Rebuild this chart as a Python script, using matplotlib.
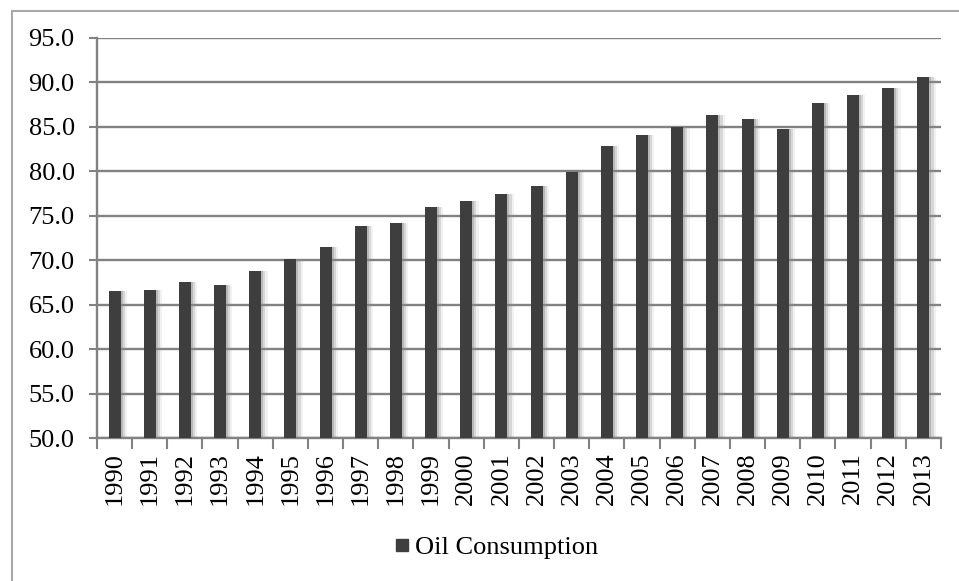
import numpy as np
import matplotlib.pyplot as plt
from matplotlib.patches import Rectangle
from matplotlib.lines import Line2D

years = [str(y) for y in range(1990, 2014)]
oil = [66.5, 66.7, 67.6, 67.2, 68.8, 70.1, 71.5, 73.8, 74.2, 76.0, 76.7, 77.4,
       78.3, 79.9, 82.8, 84.1, 85.0, 86.3, 85.9, 84.8, 87.7, 88.6, 89.4, 90.6]
yticks = np.arange(50, 96, 5)

plt.rcParams['font.family'] = ['Liberation Serif', 'DejaVu Serif']

fig = plt.figure(figsize=(9.59, 5.81), dpi=100)
ax = fig.add_axes([0.1011, 0.2461, 0.8801, 0.6885])

x = np.arange(len(years))
grey = '#828282'

# soft shadow on the right of each bar
for off, a in [(0.06, 0.4), (0.12, 0.25), (0.18, 0.12)]:
    ax.bar(x + off, np.array(oil) - 50, bottom=50, width=0.34,
           color='#8c8c8c', alpha=a, zorder=2, linewidth=0)
ax.bar(x, np.array(oil) - 50, bottom=50, width=0.34, color='#3e3e3e',
       zorder=3, linewidth=0)

ax.set_ylim(50, 95)
ax.set_xlim(-0.5, len(years) - 0.5)
ax.set_yticks(yticks)
ax.set_yticklabels([f"{v:.1f}" for v in yticks], fontsize=19)
ax.set_xticks(x)
ax.set_xticklabels(years, rotation=90, fontsize=19)
ax.set_xticks(np.arange(-0.5, len(years)), minor=True)
ax.tick_params(axis='x', which='major', length=0, pad=10)
ax.tick_params(axis='x', which='minor', length=8, width=1.5, color=grey)
ax.tick_params(axis='y', length=6, width=1.5, color=grey, pad=10)

ax.yaxis.grid(True, color=grey, linewidth=1.7, zorder=1)
ax.set_axisbelow(True)
for s in ['top', 'right']:
    ax.spines[s].set_visible(False)
for s in ['left', 'bottom']:
    ax.spines[s].set_color(grey)
    ax.spines[s].set_linewidth(1.7)

handle = Line2D([], [], marker='s', color='#3e3e3e', linestyle='None', markersize=8)
fig.legend([handle], ['Oil Consumption'], loc='center', bbox_to_anchor=(0.516, 0.0585),
           frameon=False, fontsize=19, handletextpad=0.1, handlelength=0.8)

# outer chart frame (cropped at right and bottom)
fig.patches.append(Rectangle((12 / 959, -0.1), 1.2, 1 - 11 / 581 + 0.1,
                             transform=fig.transFigure, fill=False,
                             edgecolor='#a8a8a8', linewidth=1.5))

fig.savefig('out.png', dpi=100)
